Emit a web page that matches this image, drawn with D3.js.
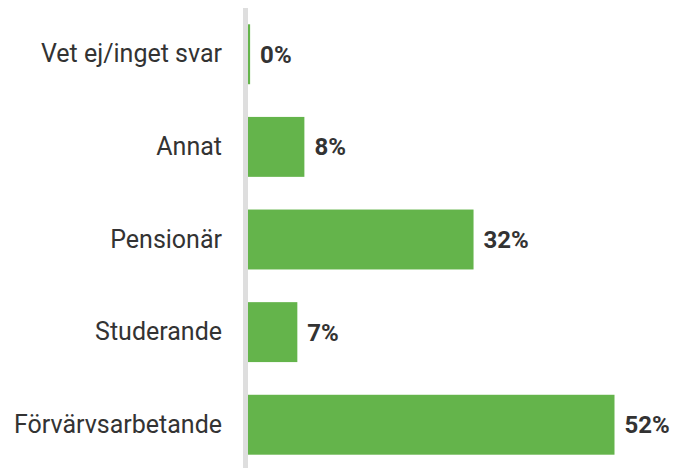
<!DOCTYPE html>
<html>
<head>
<meta charset="utf-8">
<script src="https://cdn.jsdelivr.net/npm/d3@7/dist/d3.min.js"></script>
<style>
  html, body { margin: 0; padding: 0; background: #fff; }
  svg { display: block; }
</style>
</head>
<body>
<svg id="chart" width="675" height="468"></svg>
<script>
// Sysselsättning – share of respondents per category
const categories = ["Vet ej/inget svar", "Annat", "Pensionär", "Studerande", "Förvärvsarbetande"];
const values = [0.3, 8, 32, 7, 52];

const width = 675, height = 468;
const margin = { left: 248, right: 0, top: 8, bottom: 0 };

const svg = d3.select("#chart");

const x = d3.scaleLinear().domain([0, 52]).range([margin.left, 614.5]);
const y = d3.scaleBand()
  .domain(categories)
  .range([margin.top, 471])
  .paddingInner(0.353)
  .paddingOuter(0.176);

const data = categories.map((c, i) => ({ c, v: values[i] }));

// vertical baseline
svg.append("rect")
  .attr("x", margin.left - 5)
  .attr("y", margin.top)
  .attr("width", 5)
  .attr("height", height - margin.top)
  .attr("fill", "#dedede");

// bars
svg.append("g").selectAll("rect")
  .data(data)
  .join("rect")
  .attr("x", x(0))
  .attr("y", d => y(d.c))
  .attr("width", d => x(d.v) - x(0))
  .attr("height", y.bandwidth())
  .attr("fill", "#64b44b");

// category labels
const yAxis = d3.axisLeft(y).tickSize(0).tickPadding(0);
const ag = svg.append("g")
  .attr("transform", `translate(${margin.left - 26},0)`)
  .call(yAxis);
ag.select(".domain").remove();
ag.selectAll("text")
  .attr("font-family", "Roboto, 'Liberation Sans', sans-serif")
  .attr("font-size", 25)
  .attr("fill", "#333333");

// value labels
svg.append("g").selectAll("text")
  .data(data)
  .join("text")
  .attr("x", d => x(d.v) + 10)
  .attr("y", d => y(d.c) + y.bandwidth() / 2)
  .attr("dy", "0.35em")
  .attr("font-family", "Roboto, 'Liberation Sans', sans-serif")
  .attr("font-weight", "bold")
  .attr("font-size", 24)
  .attr("fill", "#333333")
  .text(d => Math.round(d.v) + "%");
</script>
</body>
</html>
